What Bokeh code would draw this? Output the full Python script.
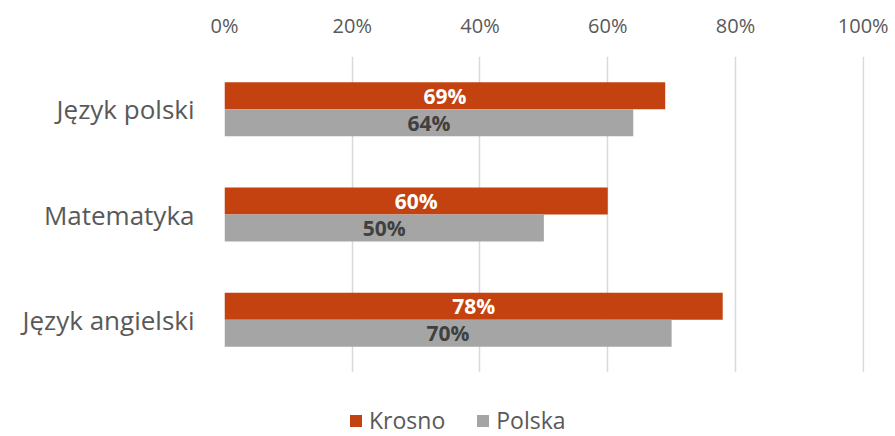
from bokeh.plotting import figure
from bokeh.layouts import column
from bokeh.models import (ColumnDataSource, FactorRange, Range1d, Legend, LegendItem,
                          PrintfTickFormatter, FixedTicker)
from bokeh.transform import dodge
from bokeh.core.properties import value
from bokeh.embed import file_html
from bokeh.resources import INLINE

categories = ["Język polski", "Matematyka", "Język angielski"]
krosno = [69, 60, 78]
polska = [64, 50, 70]
series_names = ["Krosno", "Polska"]
x_ticks = [0, 20, 40, 60, 80, 100]

KROSNO_COLOR = "#C4420F"
POLSKA_COLOR = "#A5A5A5"
FONT = "Open Sans"

src = ColumnDataSource(data=dict(
    cat=categories,
    krosno=krosno,
    polska=polska,
    krosno_mid=[v / 2 for v in krosno],
    polska_mid=[v / 2 for v in polska],
    krosno_lbl=[f"{v}%" for v in krosno],
    polska_lbl=[f"{v}%" for v in polska],
))

p = figure(width=895, height=372, output_backend="svg", toolbar_location=None,
           y_range=FactorRange(factors=list(reversed(categories)), range_padding=0),
           x_range=Range1d(0, 100.2), x_axis_location="above",
           min_border_left=224, min_border_right=31, min_border_top=56, min_border_bottom=0)

bw = 0.256
r1 = p.hbar(y=dodge("cat", bw / 2, range=p.y_range), right="krosno", left=0, height=bw,
            source=src, fill_color=KROSNO_COLOR, line_color=None)
r2 = p.hbar(y=dodge("cat", -bw / 2, range=p.y_range), right="polska", left=0, height=bw,
            source=src, fill_color=POLSKA_COLOR, line_color=None)

p.text(x="krosno_mid", y=dodge("cat", bw / 2, range=p.y_range), text="krosno_lbl", source=src,
       text_align="center", text_baseline="middle", text_color="white",
       text_font=value(FONT), text_font_style="bold", text_font_size="21px")
p.text(x="polska_mid", y=dodge("cat", -bw / 2, range=p.y_range), text="polska_lbl", source=src,
       text_align="center", text_baseline="middle", text_color="#404040",
       text_font=value(FONT), text_font_style="bold", text_font_size="21px")

xa = p.xaxis[0]
xa.ticker = FixedTicker(ticks=x_ticks)
xa.formatter = PrintfTickFormatter(format="%d%%")
for ax in (p.xaxis[0], p.yaxis[0]):
    ax.axis_line_color = None
    ax.major_tick_line_color = None
    ax.minor_tick_line_color = None
    ax.major_label_text_color = "#595959"
    ax.major_label_text_font = FONT
xa.major_label_text_font_size = "20px"
xa.major_label_standoff = 12
ya = p.yaxis[0]
ya.major_label_text_font_size = "26px"
ya.major_label_standoff = 24

p.xgrid.grid_line_color = "#D9D9D9"
p.xgrid.grid_line_width = 1.5
p.xgrid.ticker = FixedTicker(ticks=x_ticks)
p.ygrid.grid_line_color = None
p.outline_line_color = None

# legend strip below the chart (dummy swatches placed outside the visible range)
lf = figure(width=895, height=64, output_backend="svg", toolbar_location=None,
            x_range=Range1d(0, 1), y_range=Range1d(0, 1),
            min_border=0, outline_line_color=None)
lf.axis.visible = False
lf.grid.visible = False
lk = lf.hbar(y=[-10], right=[0], left=[0], height=1, fill_color=KROSNO_COLOR, line_color=None)
lp = lf.hbar(y=[-10], right=[0], left=[0], height=1, fill_color=POLSKA_COLOR, line_color=None)
legend = Legend(items=[LegendItem(label=series_names[0], renderers=[lk]),
                       LegendItem(label=series_names[1], renderers=[lp])],
                orientation="horizontal", location=(124, 0),
                label_text_font=FONT, label_text_font_size="23px", label_text_color="#595959",
                glyph_width=15, glyph_height=15, label_standoff=6, spacing=30,
                padding=0, margin=0, border_line_color=None, background_fill_alpha=0)
lf.add_layout(legend, "center")

layout = column(p, lf, spacing=0)
open("out.html", "w").write(file_html(layout, INLINE))
